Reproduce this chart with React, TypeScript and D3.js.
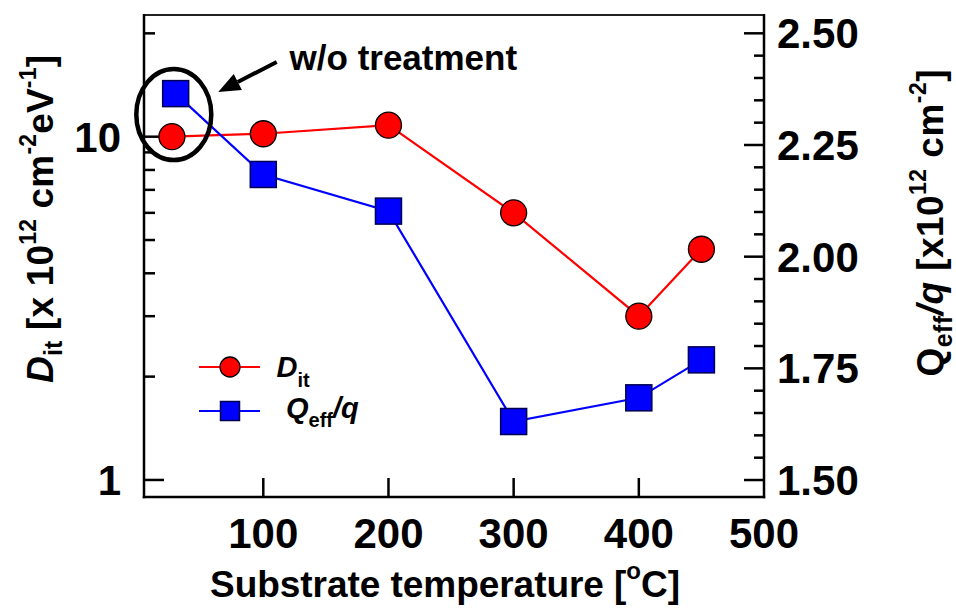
import React from "react";
import * as d3 from "d3";

// ---- data ----
const ditTemps = [27, 100, 200, 300, 400, 450];
const ditValues = [10.0, 10.2, 10.8, 6.0, 3.0, 4.7];
const qTemps = [30, 100, 200, 300, 400, 450];
const qValues = [2.365, 2.184, 2.102, 1.631, 1.684, 1.769];
const xTickValues = [100, 200, 300, 400, 500];
const leftMajorTicks = [1, 10];
const leftMinorTicks = [2, 3, 4, 5, 6, 7, 8, 9, 20];
const rightMajorTicks = [1.5, 1.75, 2.0, 2.25, 2.5];
const rightMinorTicks = [1.55, 1.6, 1.65, 1.7, 1.8, 1.85, 1.9, 1.95, 2.05, 2.1, 2.15, 2.2, 2.3, 2.35, 2.4, 2.45];

// annotation anchors (data coordinates)
const ellipseCenter = { t: 28.5, d: 11.6 };
const arrowTail = { t: 110.7, d: 16.5 };
const arrowTip = { t: 64, d: 13.5 };
const noteAnchor = { t: 121, d: 15.6 };

const W = 956;
const H = 609;
const L = 144, R = 764, T = 15, B = 497;
const FONT = "'Liberation Sans', Arial, Helvetica, sans-serif";

export default function App() {
  const x = d3.scaleLinear().domain([4.7, 500]).range([L, R]);
  const yL = d3.scaleLog().domain([0.892, 22.62]).range([B, T]);
  const yR = d3.scaleLinear().domain([1.462, 2.541]).range([B, T]);

  const ditPts: [number, number][] = ditTemps.map((t, i) => [x(t), yL(ditValues[i])]);
  const qPts: [number, number][] = qTemps.map((t, i) => [x(t), yR(qValues[i])]);
  const line = d3.line();

  const tipX = x(arrowTip.t), tipY = yL(arrowTip.d);
  const tailX = x(arrowTail.t), tailY = yL(arrowTail.d);
  const ang = Math.atan2(tipY - tailY, tipX - tailX);
  const headLen = 22, headW = 9;
  const bx = tipX - headLen * Math.cos(ang), by = tipY - headLen * Math.sin(ang);
  const head = [
    [tipX, tipY],
    [bx + headW * Math.sin(ang), by - headW * Math.cos(ang)],
    [bx - headW * Math.sin(ang), by + headW * Math.cos(ang)],
  ].map((p) => p.join(",")).join(" ");

  const sq = 26;
  const TICKF = 42;
  return (
    <svg width={W} height={H} style={{ position: "absolute", left: 0, top: 0, background: "#fff" }} fontFamily={FONT}>
      <rect width={W} height={H} fill="#fff" />
      {/* frame */}
      <line x1={L} x2={R} y1={T} y2={T} stroke="#222" strokeWidth={2} />
      <line x1={L} x2={L} y1={T - 1} y2={B + 1.2} stroke="#000" strokeWidth={2.5} />
      <line x1={R} x2={R} y1={T - 1} y2={B + 1.2} stroke="#000" strokeWidth={2.5} />
      <line x1={L - 1.2} x2={R + 1.2} y1={B} y2={B} stroke="#000" strokeWidth={2.5} />

      {/* x ticks */}
      {xTickValues.map((v) => (
        <g key={"x" + v}>
          {v < 500 && <line x1={x(v)} x2={x(v)} y1={B} y2={B - 19} stroke="#000" strokeWidth={2.5} />}
          <text x={x(v)} y={548} textAnchor="middle" fontSize={TICKF} fontWeight="bold">{v}</text>
        </g>
      ))}
      {/* left ticks */}
      {leftMajorTicks.map((v) => (
        <g key={"lM" + v}>
          <line x1={L} x2={L + 20} y1={yL(v)} y2={yL(v)} stroke="#000" strokeWidth={2.5} />
          <text x={121} y={yL(v) + 15} textAnchor="end" fontSize={TICKF} fontWeight="bold">{v}</text>
        </g>
      ))}
      {leftMinorTicks.map((v) => (
        <line key={"lm" + v} x1={L} x2={L + 11} y1={yL(v)} y2={yL(v)} stroke="#000" strokeWidth={2.5} />
      ))}
      {/* right ticks */}
      {rightMajorTicks.map((v) => (
        <g key={"rM" + v}>
          <line x1={R} x2={R - 20} y1={yR(v)} y2={yR(v)} stroke="#000" strokeWidth={2.5} />
          <text x={777} y={yR(v) + 15} textAnchor="start" fontSize={TICKF} fontWeight="bold">{v.toFixed(2)}</text>
        </g>
      ))}
      {rightMinorTicks.map((v) => (
        <line key={"rm" + v} x1={R} x2={R - 10} y1={yR(v)} y2={yR(v)} stroke="#000" strokeWidth={2.5} />
      ))}

      {/* data lines */}
      <path d={line(ditPts) || ""} fill="none" stroke="#ff0000" strokeWidth={2.2} />
      <path d={line(qPts) || ""} fill="none" stroke="#0000ff" strokeWidth={2.2} />
      {ditPts.map((p, i) => (
        <circle key={"c" + i} cx={p[0]} cy={p[1]} r={13} fill="#ff0000" stroke="#000" strokeWidth={1.3} />
      ))}
      {qPts.map((p, i) => (
        <rect key={"s" + i} x={p[0] - sq / 2} y={p[1] - sq / 2} width={sq} height={sq} fill="#0000ff" stroke="#000050" strokeWidth={1.5} />
      ))}

      {/* annotation */}
      <ellipse cx={x(ellipseCenter.t)} cy={yL(ellipseCenter.d)} rx={37.5} ry={45.5} fill="none" stroke="#000" strokeWidth={4.5} />
      <line x1={tailX} y1={tailY} x2={bx} y2={by} stroke="#000" strokeWidth={4} />
      <polygon points={head} fill="#000" />
      <text x={x(noteAnchor.t)} y={yL(noteAnchor.d)} fontSize={35} fontWeight="bold">w/o treatment</text>

      {/* legend */}
      <line x1={199} x2={260} y1={367} y2={367} stroke="#ff0000" strokeWidth={2.2} />
      <circle cx={230} cy={367} r={10} fill="#ff0000" stroke="#000" strokeWidth={1.3} />
      <text x={276.5} y={377} fontSize={29} fontWeight="bold">
        <tspan fontStyle="italic">D</tspan>
        <tspan fontSize={20} dy={10}>it</tspan>
      </text>
      <line x1={199} x2={260} y1={411} y2={411} stroke="#0000ff" strokeWidth={2.2} />
      <rect x={220.5} y={401.5} width={19} height={19} fill="#0000ff" stroke="#000050" strokeWidth={1.5} />
      <text x={286} y={418} fontSize={29} fontWeight="bold">
        <tspan fontStyle="italic">Q</tspan>
        <tspan fontSize={20} dy={9}>eff</tspan>
        <tspan fontStyle="italic" dy={-9}>/q</tspan>
      </text>

      {/* x title */}
      <text x={445} y={597} textAnchor="middle" fontSize={37} fontWeight="bold" textLength={470} lengthAdjust="spacing">
        Substrate temperature [<tspan fontSize={24} dy={-18}>o</tspan><tspan dy={18}>C]</tspan>
      </text>

      {/* left y title */}
      <text transform="translate(53,219) rotate(-90)" textAnchor="middle" fontSize={37} fontWeight="bold" textLength={328} lengthAdjust="spacing">
        <tspan fontStyle="italic">D</tspan>
        <tspan fontSize={25} dy={9}>it</tspan>
        <tspan dy={-9}> [x 10</tspan>
        <tspan fontSize={23} dy={-17}>12</tspan>
        <tspan dy={17}> cm</tspan>
        <tspan fontSize={23} dy={-17}>-2</tspan>
        <tspan dy={17}>eV</tspan>
        <tspan fontSize={23} dy={-17}>-1</tspan>
        <tspan dy={17}>]</tspan>
      </text>

      {/* right y title */}
      <text transform="translate(943,223) rotate(-90)" textAnchor="middle" fontSize={37} fontWeight="bold" textLength={307} lengthAdjust="spacing">
        <tspan>Q</tspan>
        <tspan fontSize={25} dy={9}>eff</tspan>
        <tspan fontStyle="italic" dy={-9}>/q</tspan>
        <tspan> [x10</tspan>
        <tspan fontSize={23} dy={-17}>12</tspan>
        <tspan dy={17}> cm</tspan>
        <tspan fontSize={23} dy={-17}>-2</tspan>
        <tspan dy={17}>]</tspan>
      </text>
    </svg>
  );
}
